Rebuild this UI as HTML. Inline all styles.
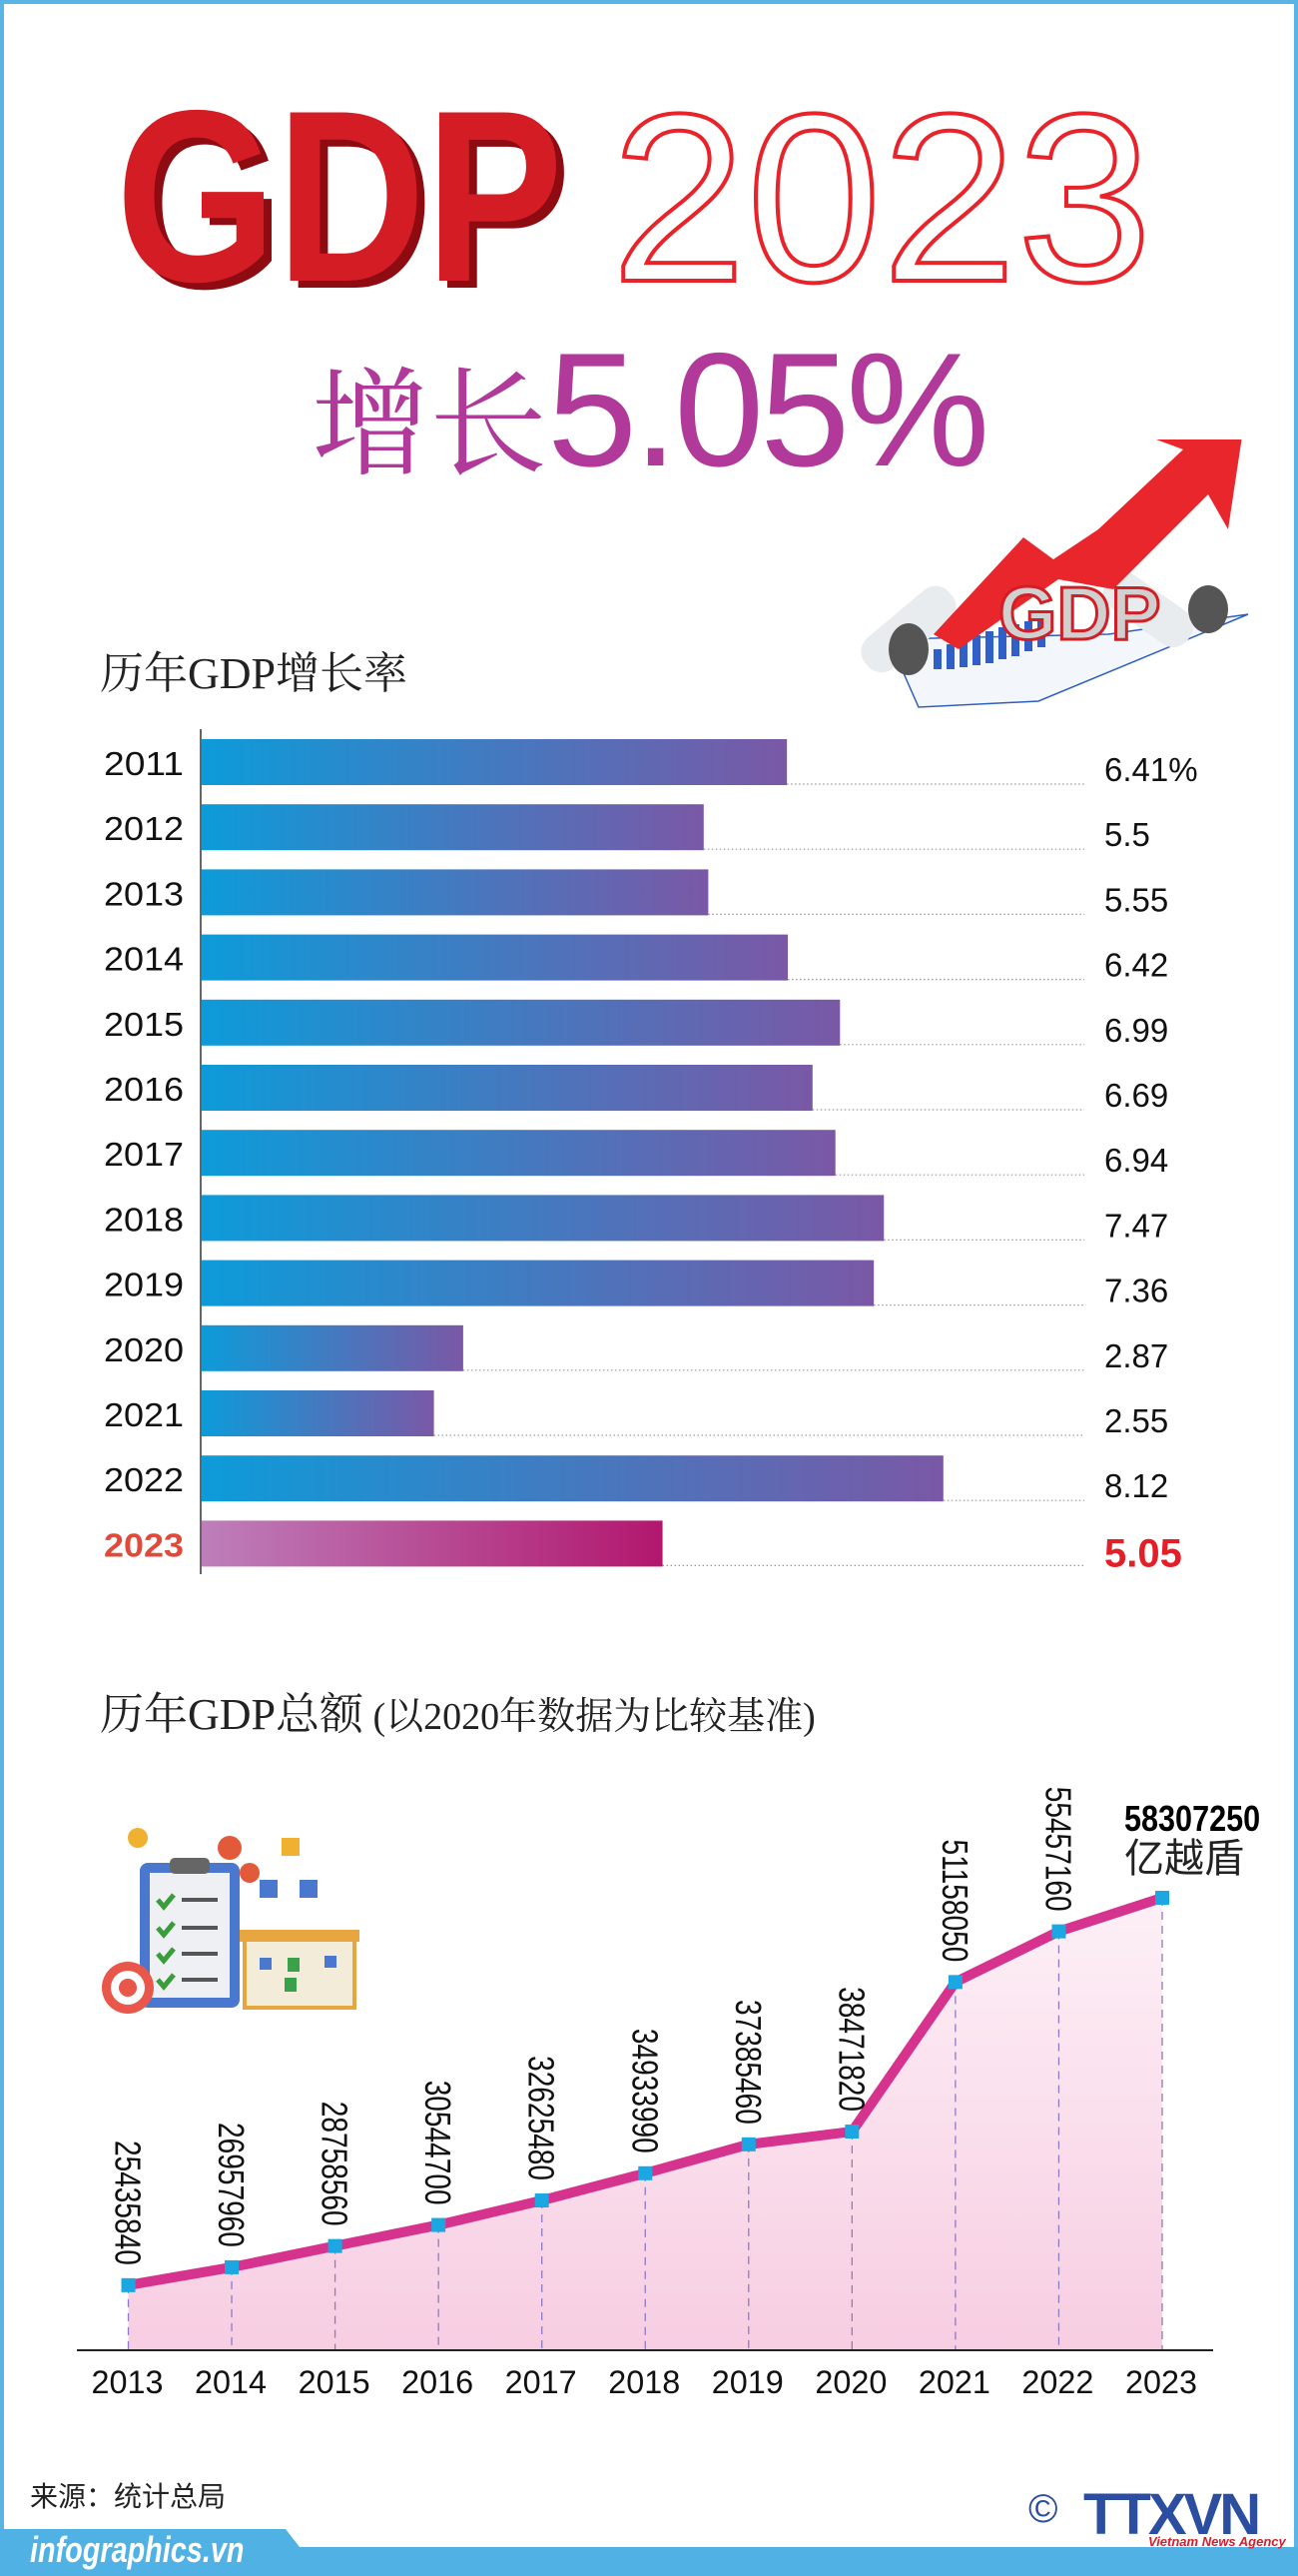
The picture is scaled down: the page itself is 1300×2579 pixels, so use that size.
<!DOCTYPE html>
<html><head><meta charset="utf-8">
<style>
*{margin:0;padding:0;box-sizing:border-box}
body{width:1300px;height:2579px;background:#fff;position:relative;overflow:hidden;font-family:"Liberation Sans","Noto Sans CJK SC",sans-serif}
.abs{position:absolute}
.serif{font-family:"Liberation Serif","Noto Serif CJK SC",serif}
</style></head>
<body>
<div class="abs" style="left:0;top:0;width:1300px;height:2579px;border:4px solid #5ab4e6;border-bottom:none"></div>

<svg class="abs" style="left:0;top:0" width="1300" height="300">
  <text x="124" y="288" font-family="Liberation Sans" font-weight="bold" font-size="245" fill="#8e0b12" textLength="448" lengthAdjust="spacingAndGlyphs">GDP</text>
  <text x="116" y="281" font-family="Liberation Sans" font-weight="bold" font-size="245" fill="#d41c24" textLength="448" lengthAdjust="spacingAndGlyphs">GDP</text>
  <text x="612" y="281" font-family="Liberation Sans" font-size="240" fill="#fff" stroke="#e8232a" stroke-width="4" textLength="542" lengthAdjust="spacingAndGlyphs">2023</text>
</svg>
<div class="abs" style="left:312px;top:318px;white-space:nowrap;color:#b0399a">
  <span class="serif" style="font-size:118px;vertical-align:baseline">增长</span><span style="font-size:162px;letter-spacing:-4px">5.05%</span>
</div>

<svg class="abs" style="left:840px;top:440px" width="440" height="280">
  <polygon points="50,200 270,195 410,175 200,262 80,268" fill="#f3f6fb" stroke="#2e5fbf" stroke-width="1.5"/>
  <g fill="#2f5fc7"><rect x="95" y="210" width="8" height="20"/><rect x="108" y="205" width="8" height="25"/><rect x="121" y="200" width="8" height="28"/><rect x="134" y="196" width="8" height="30"/><rect x="147" y="192" width="8" height="32"/><rect x="160" y="188" width="8" height="32"/><rect x="173" y="185" width="8" height="32"/><rect x="186" y="182" width="8" height="30"/><rect x="199" y="180" width="8" height="28"/></g>
  <rect x="50" y="135" width="40" height="110" rx="18" fill="#e9ecef" transform="rotate(50 70 190)"/>
  <ellipse cx="70" cy="210" rx="20" ry="26" fill="#555"/>
  <rect x="290" y="120" width="40" height="100" rx="18" fill="#e9ecef" transform="rotate(-55 310 170)"/>
  <ellipse cx="370" cy="170" rx="20" ry="24" fill="#555"/>
  <polygon points="95,195 185,98 215,120 260,90 345,10 318,0 405,-10 390,90 370,55 275,150 220,140 120,210" fill="#e8262b"/>
  <text x="160" y="200" font-family="Liberation Sans" font-weight="bold" font-size="75" fill="#d0d0d0" stroke="#d01f25" stroke-width="3">GDP</text>
</svg>

<div class="abs serif" style="left:100px;top:638px;font-size:44px;color:#222">历年GDP增长率</div>

<svg class="abs" id="bars" style="left:0;top:720px" width="1300" height="880">
  <defs>
    <linearGradient id="gb" x1="0" x2="1"><stop offset="0" stop-color="#0d9bd9"/><stop offset="1" stop-color="#7a58a6"/></linearGradient>
    <linearGradient id="gp" x1="0" x2="1"><stop offset="0" stop-color="#bd7fba"/><stop offset="1" stop-color="#b2176e"/></linearGradient>
  </defs>
</svg>

<div class="abs" style="left:100px;top:1680px;white-space:nowrap;color:#222">
  <span class="serif" style="font-size:44px">历年GDP总额</span><span class="serif" style="font-size:38px">&nbsp;(以2020年数据为比较基准)</span>
</div>

<svg class="abs" style="left:100px;top:1830px" width="300" height="200">
  <rect x="40" y="35" width="100" height="145" rx="8" fill="#4a78cf"/>
  <rect x="50" y="45" width="80" height="125" fill="#eef0f3"/>
  <rect x="70" y="30" width="40" height="16" rx="5" fill="#666"/>
  <g stroke="#3a9c3a" stroke-width="5" fill="none"><path d="M58,72l6,7l10,-12"/><path d="M58,100l6,7l10,-12"/><path d="M58,126l6,7l10,-12"/><path d="M58,152l6,7l10,-12"/></g>
  <g fill="#555"><rect x="82" y="70" width="36" height="4"/><rect x="82" y="98" width="36" height="4"/><rect x="82" y="124" width="36" height="4"/><rect x="82" y="150" width="36" height="4"/></g>
  <circle cx="38" cy="10" r="10" fill="#f0b030"/>
  <circle cx="130" cy="20" r="12" fill="#e25a3a"/><circle cx="150" cy="45" r="10" fill="#e25a3a"/>
  <circle cx="28" cy="160" r="26" fill="#e8574a"/><circle cx="28" cy="160" r="17" fill="#fff"/><circle cx="28" cy="160" r="9" fill="#e8574a"/>
  <rect x="145" y="110" width="110" height="70" fill="#f3ecd9" stroke="#e7a640" stroke-width="4"/>
  <rect x="140" y="102" width="120" height="12" fill="#e7a640"/>
  <g fill="#4a78cf"><rect x="160" y="130" width="12" height="12"/><rect x="225" y="128" width="12" height="12"/></g>
  <g fill="#3aa04a"><rect x="188" y="130" width="12" height="14"/><rect x="185" y="150" width="12" height="14"/></g>
  <rect x="182" y="10" width="18" height="18" fill="#f0b030"/><rect x="160" y="52" width="18" height="18" fill="#4a78cf"/><rect x="200" y="52" width="18" height="18" fill="#4a78cf"/>
</svg>

<svg class="abs" id="line" style="left:0;top:0" width="1300" height="2579"></svg>

<div class="abs" style="left:1126px;top:1802px;line-height:1.05">
  <div style="font-size:36px;font-weight:bold;transform:scaleX(0.85);transform-origin:left">58307250</div>
  <div style="font-size:40px;color:#222">亿越盾</div>
</div>

<div class="abs" style="left:30px;top:2478px;font-size:28px;color:#222">来源：统计总局</div>

<svg class="abs" style="left:0;top:2528px" width="1300" height="51">
  <polygon points="0,4 286,4 300,22 1300,22 1300,51 0,51" fill="#4fb1e4"/>
</svg>
<div class="abs" style="left:30px;top:2532px;font-size:36px;color:#fff;font-style:italic;font-weight:bold;transform:scaleX(0.8);transform-origin:left">infographics.vn</div>
<div class="abs" style="left:1030px;top:2490px;font-size:40px;color:#2b4ea0">©</div>
<div class="abs" style="left:1085px;top:2484px;font-size:58px;font-weight:bold;color:#2b4ea0;letter-spacing:-3px">TTXVN</div>
<div class="abs" style="left:1150px;top:2537px;font-size:13px;color:#d21f2b;font-style:italic;font-weight:bold">Vietnam News Agency</div>

<script>
const years = ['2011','2012','2013','2014','2015','2016','2017','2018','2019','2020','2021','2022','2023'];
const growth = [6.41,5.5,5.55,6.42,6.99,6.69,6.94,7.47,7.36,2.87,2.55,8.12,5.05];
const growthLabels = ['6.41%','5.5','5.55','6.42','6.99','6.69','6.94','7.47','7.36','2.87','2.55','8.12','5.05'];

const lineYears = ['2013','2014','2015','2016','2017','2018','2019','2020','2021','2022','2023'];
const totals = [25435840,26957960,28758560,30544700,32625480,34933990,37385460,38471820,51158050,55457160,58307250];

const NS='http://www.w3.org/2000/svg';
function mk(parent,tag,attrs){const e=document.createElementNS(NS,tag);for(const k in attrs)e.setAttribute(k,attrs[k]);parent.appendChild(e);return e;}

// bar chart
const bs=document.getElementById('bars');
const bx0=201, bScale=91.6, bTop=20, bStep=65.2, bH=46;
const bxf=v=>bx0+v*bScale, byf=i=>bTop+i*bStep;
const axis=mk(bs,'line',{x1:bx0,y1:10,x2:bx0,y2:856,stroke:'#333','stroke-width':1.5});


years.forEach((y,i)=>{
  const last=i===years.length-1;
  const r=mk(bs,'rect',{x:bx0+1,y:byf(i),width:bxf(growth[i])-bx0-1,height:bH,fill:last?'url(#gp)':'url(#gb)'});
  
  
  const d=mk(bs,'line',{x1:bxf(growth[i]),y1:byf(i)+bH-1,x2:1086,y2:byf(i)+bH-1,stroke:'#999','stroke-width':1.2,'stroke-dasharray':'1.5 2.5'});
  
  
  const t=mk(bs,'text',{x:184,y:byf(i)+36,'text-anchor':'end','font-size':last?33:33,'font-weight':last?'bold':'normal',fill:last?'#e04a3a':'#111','font-family':'Liberation Sans',textLength:80,lengthAdjust:'spacingAndGlyphs'});
  t.textContent=y;
  
  
  const v=mk(bs,'text',{x:1106,y:byf(i)+(last?46:42),'font-size':last?40:33,'font-weight':last?'bold':'normal',fill:last?'#e41e26':'#111','font-family':'Liberation Sans'});
  v.textContent=growthLabels[i];
  
  
});

// line chart
const ls=document.getElementById('line');
const lx0=128.5, lStep=103.55, yZero=2588, yPerM=11.8, base=2353;
const lxf=i=>lx0+i*lStep, lyf=v=>yZero-v/1e6*yPerM;
const defs=mk(ls,'defs',{});
const lg=mk(defs,'linearGradient',{id:'pf',x1:0,y1:0,x2:0,y2:1});
mk(lg,'stop',{offset:0,'stop-color':'#fdf0f6'});mk(lg,'stop',{offset:1,'stop-color':'#f7cde2'});
let pts=totals.map((v,i)=>lxf(i)+','+lyf(v)).join(' ');
const area=mk(ls,'polygon',{points:lxf(0)+','+base+' '+pts+' '+lxf(totals.length-1)+','+base,fill:'url(#pf)'});


totals.forEach((v,i)=>{
  const d=mk(ls,'line',{x1:lxf(i),y1:lyf(v),x2:lxf(i),y2:base,stroke:'#8d7bc4','stroke-width':1.3,'stroke-dasharray':'8 6'});
  
  
});
const xa=mk(ls,'line',{x1:77,y1:base,x2:1215,y2:base,stroke:'#222','stroke-width':2});


const pl=mk(ls,'polyline',{points:pts,fill:'none',stroke:'#d6338f','stroke-width':10,'stroke-linejoin':'round'});


totals.forEach((v,i)=>{
  const p=mk(ls,'rect',{x:lxf(i)-7,y:lyf(v)-7,width:14,height:14,fill:'#1ba8e2'});
  
  
  const t=mk(ls,'text',{x:lxf(i)-1,y:base+43,'text-anchor':'middle','font-size':32,fill:'#111','font-family':'Liberation Sans',textLength:72,lengthAdjust:'spacingAndGlyphs'});
  t.textContent=lineYears[i];
  
  
  if(i<totals.length-1){
    const yy=lyf(v)-20, xx=lxf(i);
    const vl=mk(ls,'text',{x:0,y:0,'text-anchor':'end','font-size':36,fill:'#111','font-family':'Liberation Sans',transform:'translate('+(xx-13)+','+yy+') rotate(90) scale(0.78,1)'});
    vl.textContent=String(v);
    
    
  }
});
</script>
</body></html>
